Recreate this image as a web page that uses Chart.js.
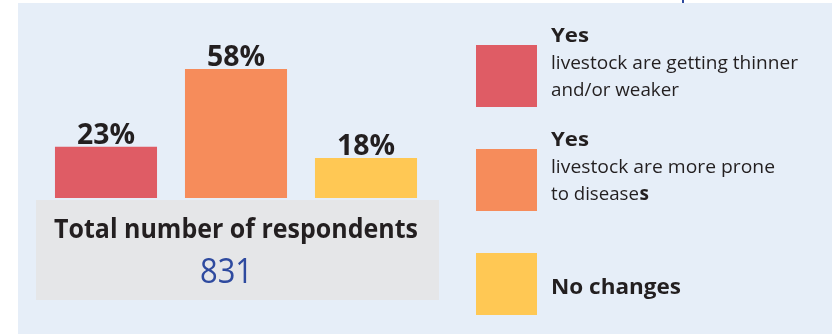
<!DOCTYPE html>
<html>
<head>
<meta charset="utf-8">
<script src="https://cdn.jsdelivr.net/npm/chart.js@4/dist/chart.umd.min.js"></script>
<style>
  html, body { margin: 0; padding: 0; background: #ffffff; }
  #wrap { width: 837px; height: 334px; position: relative; }
</style>
</head>
<body>
<div id="wrap"><canvas id="c" width="837" height="334"></canvas></div>
<script>
// Survey answers: have livestock changed?
const categories = ['Yes: thinner and/or weaker', 'Yes: more prone to diseases', 'No changes'];
const shares = [23, 58, 18];
const barColors = ['#df5c65', '#f68c5b', '#ffc854'];
const legendHeads = ['Yes', 'Yes', 'No changes'];
const legendLines = [
  ['livestock are getting thinner', 'and/or weaker'],
  ['livestock are more prone', 'to disease'],
  []
];
const respondentsLabel = 'Total number of respondents';
const respondents = 831;

const FONT = '"Open Sans", Lato, "DejaVu Sans", sans-serif';
const INK = '#231f20';

// draw text squeezed or stretched to a target width
function fitText(ctx, text, x, y, width) {
  const w = ctx.measureText(text).width;
  const k = width / w;
  ctx.save();
  ctx.translate(x, y);
  ctx.scale(k, 1);
  ctx.fillText(text, 0, 0);
  ctx.restore();
  return width;
}

const frame = {
  id: 'frame',
  beforeDraw(chart) {
    const ctx = chart.ctx;
    ctx.save();
    ctx.fillStyle = '#ffffff';
    ctx.fillRect(0, 0, chart.width, chart.height);
    ctx.fillStyle = '#e6eef8';
    ctx.fillRect(18, 3, 814, 331);
    // clipped stub of the heading above the panel
    ctx.fillStyle = '#2e4a9f';
    ctx.fillRect(682, 0, 2, 3);
    ctx.restore();
  },
  afterDatasetsDraw(chart) {
    const ctx = chart.ctx;
    const meta = chart.getDatasetMeta(0);
    ctx.save();

    // value labels above the bars
    ctx.fillStyle = INK;
    ctx.textAlign = 'left';
    ctx.textBaseline = 'alphabetic';
    ctx.font = 'bold 29px ' + FONT;
    meta.data.forEach((bar, i) => {
      fitText(ctx, shares[i] + '%', bar.x - 29, bar.y - 3, 58);
    });

    // respondents box
    ctx.fillStyle = '#e5e6e8';
    ctx.fillRect(36, 200, 403, 100);
    ctx.fillStyle = INK;
    ctx.font = 'bold 26px ' + FONT;
    fitText(ctx, respondentsLabel, 54, 238, 364);
    ctx.fillStyle = '#2e4a9f';
    ctx.font = '34px ' + FONT;
    fitText(ctx, String(respondents), 200, 283, 53);

    // legend
    const tops = [45, 149, 253];
    categories.forEach((c, i) => {
      ctx.fillStyle = barColors[i];
      ctx.fillRect(476, tops[i], 61, 62);
      ctx.fillStyle = INK;
      const tx = 551;
      if (legendLines[i].length) {
        const base = tops[i] - 3;
        ctx.font = 'bold 20px ' + FONT;
        fitText(ctx, legendHeads[i], tx, base, 38);
        const target = [[247, 128], [224, 88]];
        legendLines[i].forEach((ln, k) => {
          const y = base + 27 * (k + 1);
          ctx.font = '19px ' + FONT;
          const w = fitText(ctx, ln, tx, y, target[i][k]);
          if (i === 1 && k === 1) {
            ctx.font = 'bold 19px ' + FONT;
            ctx.fillText('s', tx + w + 0.5, y);
          }
        });
      } else {
        ctx.font = 'bold 21px ' + FONT;
        fitText(ctx, legendHeads[i], tx, tops[i] + 41, 130);
      }
    });
    ctx.restore();
  }
};

new Chart(document.getElementById('c'), {
  type: 'bar',
  data: {
    labels: categories,
    datasets: [{
      data: shares,
      backgroundColor: barColors,
      borderWidth: 0,
      categoryPercentage: 1,
      barPercentage: 0.785
    }]
  },
  options: {
    responsive: false,
    animation: false,
    layout: { padding: { left: 41, right: 406, top: 20, bottom: 136 } },
    plugins: { legend: { display: false }, tooltip: { enabled: false } },
    scales: {
      x: { display: false, grid: { display: false } },
      y: { display: false, min: 0, max: 80, grid: { display: false } }
    }
  },
  plugins: [frame]
});
</script>
</body>
</html>
